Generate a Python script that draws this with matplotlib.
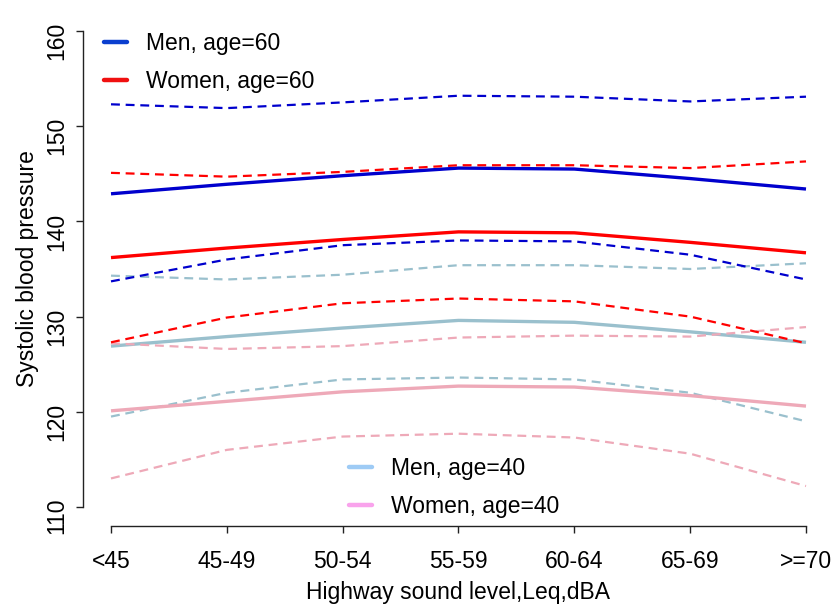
import numpy as np
import matplotlib
matplotlib.use('Agg')
import matplotlib.pyplot as plt
from matplotlib.lines import Line2D

plt.rcParams['font.family'] = ['Liberation Sans', 'DejaVu Sans']

# noise categories
levels = ['<45', '45-49', '50-54', '55-59', '60-64', '65-69', '>=70']

# men, age 60 (estimate with upper/lower bounds)
men60 = [142.9, 143.9, 144.8, 145.6, 145.5, 144.5, 143.4]
men60_hi = [152.3, 151.9, 152.5, 153.2, 153.1, 152.6, 153.1]
men60_lo = [133.7, 136.0, 137.5, 138.0, 137.9, 136.5, 133.9]

# women, age 60
women60 = [136.2, 137.2, 138.1, 138.9, 138.8, 137.8, 136.7]
women60_hi = [145.1, 144.7, 145.2, 145.9, 145.9, 145.6, 146.3]
women60_lo = [127.3, 129.9, 131.4, 131.9, 131.6, 130.0, 127.2]

# men, age 40
men40 = [126.9, 127.9, 128.8, 129.6, 129.4, 128.4, 127.3]
men40_hi = [134.3, 133.9, 134.4, 135.4, 135.4, 135.0, 135.6]
men40_lo = [119.5, 122.0, 123.4, 123.6, 123.4, 122.0, 119.0]

# women, age 40
women40 = [120.1, 121.1, 122.1, 122.7, 122.6, 121.7, 120.6]
women40_hi = [127.2, 126.6, 126.9, 127.8, 128.0, 127.9, 128.9]
women40_lo = [113.0, 116.0, 117.4, 117.7, 117.3, 115.6, 112.2]

x = np.arange(len(levels))

fig = plt.figure(figsize=(8.33, 6.06), dpi=100)
ax = fig.add_axes([111 / 833, 1 - 507 / 606, 695 / 833, 476 / 606])

groups = [
    (men40, men40_hi, men40_lo, '#9AC0CD'),
    (women40, women40_hi, women40_lo, '#EEA9B8'),
    (men60, men60_hi, men60_lo, '#0000CD'),
    (women60, women60_hi, women60_lo, '#FF0000'),
]
for est, hi, lo, col in groups:
    ax.plot(x, est, color=col, lw=2.4, clip_on=False, solid_capstyle='butt')
    for b in (hi, lo):
        ax.plot(x, b, color=col, lw=1.6, ls=(0, (4, 2.6)), clip_on=False)

ax.set_xlim(0, 6)
ax.set_ylim(110, 160)
ax.set_xticks(x)
ax.set_xticklabels(levels)
ax.set_yticks(np.arange(110, 161, 10))
ax.tick_params(axis='y', labelrotation=90)
for lab in ax.get_yticklabels():
    lab.set_va('center')

for side in ('top', 'right'):
    ax.spines[side].set_visible(False)
ax.spines['left'].set_position(('outward', 20))
ax.spines['bottom'].set_position(('outward', 14))
ax.spines['left'].set_bounds(110, 160)
ax.spines['bottom'].set_bounds(0, 6)
for side in ('left', 'bottom'):
    ax.spines[side].set_linewidth(1.0)
    ax.spines[side].set_color('#222222')
ax.tick_params(length=5, width=1.0, color='#222222', labelsize=16.5)
ax.tick_params(axis='x', pad=12)
ax.tick_params(axis='y', pad=6)

ax.set_xlabel('Highway sound level,Leq,dBA', fontsize=16.5, labelpad=6)
ax.set_ylabel('Systolic blood pressure', fontsize=16.5, labelpad=4)

def keys(cols):
    return [Line2D([], [], color=c, lw=3.2, solid_capstyle='round') for c in cols]

leg1 = ax.legend(keys(['#0B3FCF', '#F01010']), ['Men, age=60', 'Women, age=60'],
                 loc='upper left', bbox_to_anchor=(104 / 833, 1 - 32 / 606),
                 bbox_transform=fig.transFigure, frameon=False, fontsize=16.5,
                 handlelength=1.0, handletextpad=0.85, labelspacing=0.65,
                 borderpad=0, borderaxespad=0)
ax.add_artist(leg1)
ax.legend(keys(['#9ECBF5', '#F9A3EC']), ['Men, age=40', 'Women, age=40'],
          loc='upper left', bbox_to_anchor=(349 / 833, 1 - 457 / 606),
          bbox_transform=fig.transFigure, frameon=False, fontsize=16.5,
          handlelength=1.0, handletextpad=0.85, labelspacing=0.65,
          borderpad=0, borderaxespad=0)

fig.savefig('out.png', dpi=100)
